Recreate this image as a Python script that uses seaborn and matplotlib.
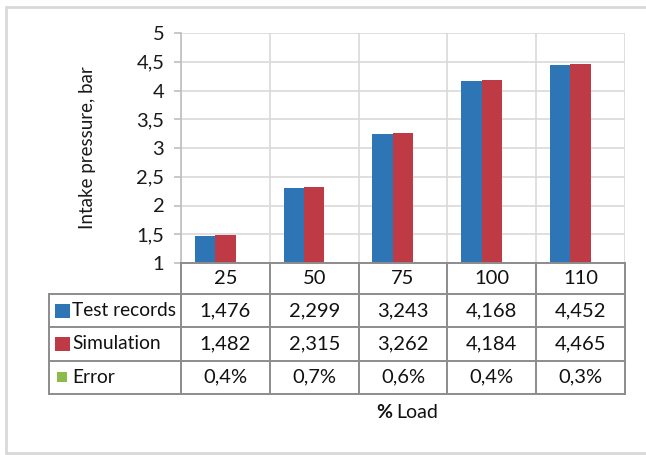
import matplotlib
matplotlib.use("Agg")
import matplotlib.pyplot as plt
from matplotlib.lines import Line2D
from matplotlib.patches import Rectangle
import matplotlib.transforms as mtransforms
import seaborn as sns
import pandas as pd

# Data
loads = ["25", "50", "75", "100", "110"]
test_records = [1.476, 2.299, 3.243, 4.168, 4.452]
simulation = [1.482, 2.315, 3.262, 4.184, 4.465]
error_pct = [0.4, 0.7, 0.6, 0.4, 0.3]
series = ["Test records", "Simulation", "Error"]
colors = ["#2E75B6", "#BE3A44", "#8CBB4C"]
y_ticks = [1, 1.5, 2, 2.5, 3, 3.5, 4, 4.5, 5]

df = pd.DataFrame({
    "Load": loads * 3,
    "Series": [series[0]] * 5 + [series[1]] * 5 + [series[2]] * 5,
    "Value": test_records + simulation + [e / 100 for e in error_pct],
})

sns.set_theme(style="white")
FONT = ["Lato", "DejaVu Sans"]
plt.rcParams["font.family"] = FONT

W, H = 646, 455
fig = plt.figure(figsize=(W / 100, H / 100), dpi=100)


def fx(px):
    return px / W


def fy(py):
    return 1 - py / H


# plot area in pixel space
L, R, T, B = 181, 625, 33, 263
ax = fig.add_axes([fx(L), fy(B), fx(R) - fx(L), fy(T) - fy(B)])

sns.barplot(data=df, x="Load", y="Value", hue="Series", order=loads,
            hue_order=series, palette=colors, width=0.69, saturation=1,
            linewidth=0, legend=False, ax=ax)

ax.set_xlim(-0.5, len(loads) - 0.5)
ax.set_ylim(1, 5)
ax.set_yticks(y_ticks)
ax.set_yticklabels([f"{t:g}".replace(".", ",") for t in y_ticks],
                   fontsize=14.5, color="#1a1a1a")
ax.set_xticks([])
ax.set_xticks([i + 0.5 for i in range(-1, len(loads))], minor=True)
ax.tick_params(axis="x", which="minor", length=0)
ax.tick_params(axis="y", which="major", length=5, width=1.2, color="#bfbfbf",
               pad=7, left=True)
ax.set_xlabel("")
ax.set_ylabel("Intake pressure, bar", fontsize=13.5, color="#1a1a1a")
ax.yaxis.set_label_coords((96 - L) / (R - L), 0.5)
ax.grid(True, which="major", axis="y", color="#d9d9d9", linewidth=1.2)
ax.grid(True, which="minor", axis="x", color="#d9d9d9", linewidth=1.2)
ax.set_axisbelow(True)
for side in ["top", "right"]:
    ax.spines[side].set_visible(False)
ax.spines["left"].set_color("#bfbfbf")
ax.spines["left"].set_linewidth(1.2)
ax.spines["bottom"].set_visible(False)

# data table under the plot
tab = mtransforms.blended_transform_factory(ax.transData, fig.transFigure)
rows_y = [263, 294, 327, 360.5, 394]
line_kw = dict(color="#8c8c8c", linewidth=1.4, solid_capstyle="projecting")
LEG_L = 49
for y in rows_y:
    x0 = fx(L) if y == rows_y[0] else fx(LEG_L)
    fig.add_artist(Line2D([x0, fx(R)], [fy(y), fy(y)], transform=fig.transFigure, **line_kw))
fig.add_artist(Line2D([fx(LEG_L), fx(LEG_L)], [fy(rows_y[1]), fy(rows_y[-1])],
                      transform=fig.transFigure, **line_kw))
for i in range(len(loads) + 1):
    xb = i - 0.5
    fig.add_artist(Line2D([xb, xb], [fy(rows_y[0]), fy(rows_y[-1])], transform=tab, **line_kw))

txt_kw = dict(fontsize=14.5, color="#111111", va="center", ha="center")
row_text = [
    loads,
    [f"{v:.3f}".replace(".", ",") for v in test_records],
    [f"{v:.3f}".replace(".", ",") for v in simulation],
    [f"{v:.1f}%".replace(".", ",") for v in error_pct],
]
for r, vals in enumerate(row_text):
    yc = fy((rows_y[r] + rows_y[r + 1]) / 2)
    for i, s in enumerate(vals):
        fig.text(i, yc, s, transform=tab, **txt_kw)

# legend keys and series names
key_sizes = [(15, 14), (15, 14), (10, 10)]
key_x = [55, 55, 57]
for r, (name, c, (kw_, kh), kx) in enumerate(zip(series, colors, key_sizes, key_x)):
    yc = (rows_y[r + 1] + rows_y[r + 2]) / 2
    fig.add_artist(Rectangle((fx(kx), fy(yc + kh / 2)), kw_ / W, kh / H,
                             transform=fig.transFigure, color=c, lw=0))
    fig.text(fx(72), fy(yc), name, fontsize=13.8, color="#111111", va="center", ha="left")

# axis title below the table: bold percent sign followed by "Load"
fig.text(fx(392), fy(412), "%", fontsize=14, color="#111111", va="center",
         ha="right", fontweight="bold")
fig.text(fx(396), fy(412), "Load", fontsize=14, color="#111111", va="center", ha="left")

# chart frame
frame_kw = dict(color="#d9d9d9", linewidth=2, transform=fig.transFigure)
fig.add_artist(Line2D([fx(6), 1], [fy(6.5), fy(6.5)], **frame_kw))
fig.add_artist(Line2D([fx(6), fx(6)], [fy(6.5), fy(453)], **frame_kw))
fig.add_artist(Line2D([fx(6), 1], [fy(453), fy(453)], **frame_kw))

fig.savefig("out.png", dpi=100)
